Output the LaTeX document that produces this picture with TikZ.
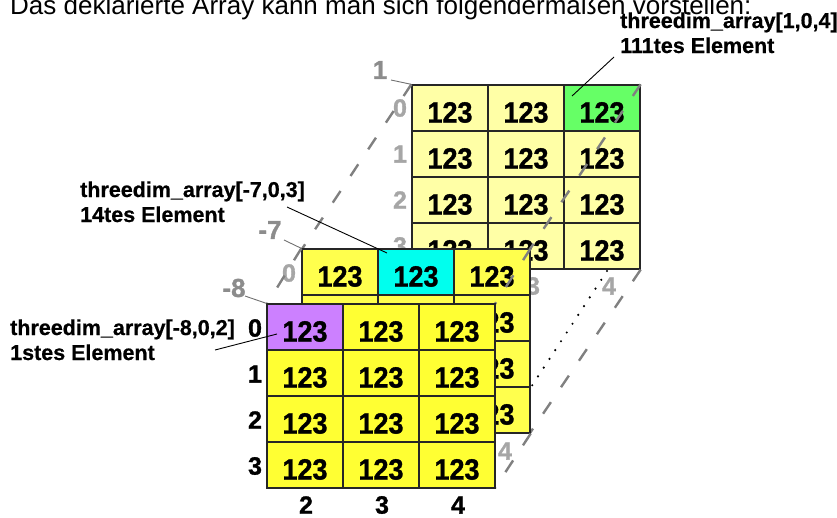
\documentclass[tikz,border=0pt]{standalone}
\usepackage{fontspec}
\setmainfont{Liberation Sans}
\newfontfamily\heavyfont[FakeBold=1.2]{Liberation Sans Bold}
\newfontfamily\callfont[FakeBold=0.6]{Liberation Sans Bold}
\usetikzlibrary{calc}
\definecolor{backY}{HTML}{FFFFA6}
\definecolor{midY}{HTML}{FFFF4D}
\definecolor{frontY}{HTML}{FFFF33}
\definecolor{cGreen}{HTML}{66FF66}
\definecolor{cCyan}{HTML}{00FFEE}
\definecolor{cPurple}{HTML}{CC80FF}
\definecolor{idxgray}{HTML}{A6A6A6}
\definecolor{laygray}{HTML}{8C8C8C}
\definecolor{dashgray}{HTML}{808080}
\begin{document}
\begin{tikzpicture}[x=1pt,y=-1pt,
  cell/.style={draw=black!85, line width=1.3pt, inner sep=0pt,
    minimum width=76pt, minimum height=46pt, text height=29pt, text depth=0pt,
    font=\fontsize{27}{27}\heavyfont},
  idxback/.style={inner sep=0pt, text=idxgray, font=\fontsize{25}{25}\heavyfont},
  idxfront/.style={inner sep=0pt, text=black, font=\fontsize{25}{25}\heavyfont},
  laylabel/.style={inner sep=0pt, text=laygray, font=\fontsize{26}{26}\heavyfont},
  layline/.style={draw=laygray!80!black, line width=0.9pt},
  calltext/.style={anchor=base west, inner sep=0pt, font=\fontsize{21.5}{21.5}\callfont},
  callline/.style={draw=black, line width=0.9pt},
  dashline/.style={draw=dashgray, line width=2.4pt, dash pattern=on 14pt off 18pt},
  dotline/.style={draw=black, line width=2.4pt, line cap=round, dash pattern=on 0pt off 10.5pt}
]
\useasboundingbox (0,0) rectangle (837,517);

% title (cut at top)
\node[anchor=base west, inner sep=0pt, font=\fontsize{26}{26}\selectfont] (title) at (10,14)
  {Das deklarierte Array kann man sich folgendermaßen vorstellen:};

% ---------- back layer [1] ----------
\foreach \r in {0,...,3}
  \foreach \c [count=\ci from 0] in {2,3,4}
    \node[cell, fill=backY] (b\r\c) at ({450+76*\ci},{108+46*\r}) {\scalebox{1}[1.08]{123}};
\node[cell, fill=cGreen] (b04) at (602,108) {\scalebox{1}[1.08]{123}};
\foreach \r in {0,...,3}
  \node[idxback] (br\r) at (400,{108+46*\r}) {\r};
\foreach \c [count=\ci from 0] in {2,3,4}
  \node[idxback] (bc\c) at ({457+76*\ci},286) {\c};

% dashed connectors back -> middle
\coordinate (dotA) at (607,271);
\path (b02.north west) coordinate (bNW) (b04.north east) coordinate (bNE) (b34.south east) coordinate (bSE);
\coordinate (mNW) at (302,249);
\coordinate (mNE) at (530,249);
\coordinate (mSE) at (530,433);
\draw[dashline] (bNW) -- (mNW);
\draw[dashline] (bNE) -- (mNE);
\draw[dashline] (bSE) -- (mSE);

% ---------- middle layer [-7] ----------
\foreach \r in {0,...,3}
  \foreach \c [count=\ci from 0] in {2,3,4}
    \node[cell, fill=midY] (m\r\c) at ({340+76*\ci},{272+46*\r}) {\scalebox{1}[1.08]{123}};
\node[cell, fill=cCyan] (m03) at (416,272) {\scalebox{1}[1.08]{123}};
\draw[dotline] (dotA) -- (m24.south east);
\foreach \r in {0,...,3}
  \node[idxback] (mr\r) at (289,{273+46*\r}) {\r};
\foreach \c [count=\ci from 0] in {2,3,4}
  \node[idxback] (mc\c) at ({353+76*\ci},451) {\c};

% dashed connectors middle -> front
\draw[dashline] (m02.north west) -- (267,304) coordinate (fNW);
\draw[dashline] (m04.north east) -- (495,304) coordinate (fNE);
\draw[dashline] (m34.south east) -- (495,488) coordinate (fSE);

% ---------- front layer [-8] ----------
\foreach \r in {0,...,3}
  \foreach \c [count=\ci from 0] in {2,3,4}
    \node[cell, fill=frontY] (f\r\c) at ({305+76*\ci},{327+46*\r}) {\scalebox{1}[1.08]{123}};
\node[cell, fill=cPurple] (f02) at (305,327) {\scalebox{1}[1.08]{123}};
\foreach \r in {0,...,3}
  \node[idxfront] (fr\r) at (255,{328+46*\r}) {\r};
\foreach \c [count=\ci from 0] in {2,3,4}
  \node[idxfront] (fc\c) at ({306+76*\ci},505) {\c};

% ---------- layer labels ----------
\node[laylabel] (l1) at (380,70) {1};
\node[laylabel] (l7) at (270,230) {-7};
\node[laylabel] (l8) at (234,288) {-8};
\coordinate (l1e) at (391,80);
\coordinate (l7e) at (284,240);
\coordinate (l8e) at (245,296);
\draw[layline] (l1e) -- (b02.north west);
\draw[layline] (l7e) -- (m02.north west);
\draw[layline] (l8e) -- (f02.north west);

% ---------- callouts ----------
\node[calltext] (c1a) at (620,28) {threedim\_array[1,0,4]};
\node[calltext] (c1b) at (620,53) {111tes Element};
\node[calltext] (c2a) at (80,197) {threedim\_array[-7,0,3]};
\node[calltext] (c2b) at (80,222) {14tes Element};
\node[calltext] (c3a) at (10,335) {threedim\_array[-8,0,2]};
\node[calltext] (c3b) at (10,360) {1stes Element};
\coordinate (c1s) at (614,57);
\coordinate (c1e) at (572,96);
\coordinate (c2s) at (287,207);
\coordinate (c2e) at (387,253);
\coordinate (c3s) at (215,350);
\coordinate (c3e) at (277,334);
\draw[callline] (c1s) -- (c1e);
\draw[callline] (c2s) -- (c2e);
\draw[callline] (c3s) -- (c3e);
\end{tikzpicture}
\end{document}
